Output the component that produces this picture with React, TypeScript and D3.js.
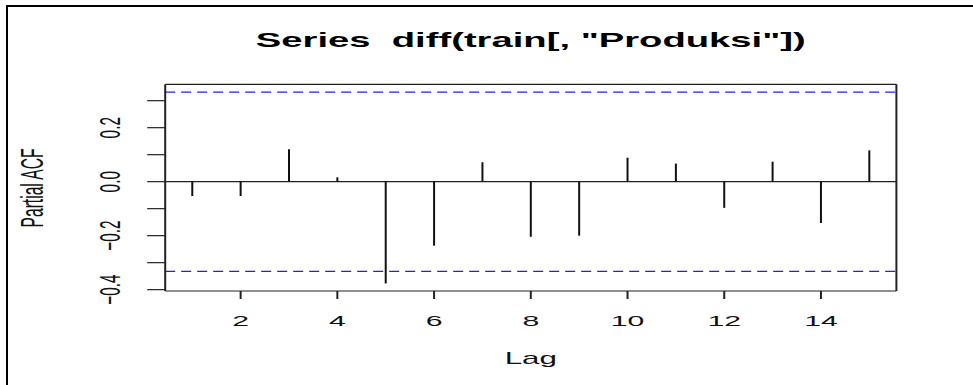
import React from "react";
import * as d3 from "d3";

const lags = [1, 2, 3, 4, 5, 6, 7, 8, 9, 10, 11, 12, 13, 14, 15];
const pacf = [-0.053, -0.053, 0.12, 0.016, -0.377, -0.237, 0.072, -0.204, -0.2, 0.089, 0.067, -0.097, 0.074, -0.153, 0.116];
const ciLimit = 0.332;
const xTicks = [2, 4, 6, 8, 10, 12, 14];
const yTicks = [-0.4, -0.3, -0.2, -0.1, 0.0, 0.1, 0.2, 0.3];
const yLabelTicks = [-0.4, -0.2, 0.0, 0.2];
const title = 'Series  diff(train[, "Produksi"])';
const xLabel = "Lag";
const yLabel = "Partial ACF";

const W = 973;
const H = 385;
const SX = 1.96;
const FONT = "'Liberation Sans', Arial, sans-serif";

export default function App() {
  const box = { left: 165.2, right: 896.4, top: 84.3, bottom: 291 };
  const x = d3.scaleLinear().domain([0.44, 15.56]).range([box.left, box.right]);
  const y = d3.scaleLinear().domain([-0.405, 0.3607]).range([box.bottom, box.top]);
  const fmt = (v: number) => (Math.abs(v) < 1e-9 ? "0.0" : d3.format(".1f")(v));

  return (
    <svg width={W} height={H} style={{ position: "absolute", left: 0, top: 0, background: "#fff" }}>
      <rect x={0} y={0} width={W} height={H} fill="#fff" />
      {/* outer frame */}
      <line x1={6} x2={W} y1={6} y2={6} stroke="#000" strokeWidth={2} />
      <line x1={7} x2={7} y1={5} y2={H} stroke="#000" strokeWidth={2} />

      {/* title */}
      <text
        transform={`translate(${(box.left + box.right) / 2},${47}) scale(${SX},1)`}
        textAnchor="middle"
        fontFamily={FONT}
        fontWeight="bold"
        fontSize={19.5}
        fill="#000"
        style={{ whiteSpace: "pre" }}
        xmlSpace="preserve"
      >
        {title}
      </text>

      {/* confidence lines */}
      {[ciLimit, -ciLimit].map((c, i) => (
        <line
          key={i}
          x1={box.left}
          x2={box.right}
          y1={y(c)}
          y2={y(c)}
          stroke="#2020ff"
          strokeWidth={1.2}
          strokeDasharray="10 6"
        />
      ))}

      {/* zero line */}
      <line x1={box.left} x2={box.right} y1={y(0)} y2={y(0)} stroke="#222" strokeWidth={1.2} />

      {/* spikes */}
      {lags.map((l, i) => (
        <line key={l} x1={x(l)} x2={x(l)} y1={y(0)} y2={y(pacf[i])} stroke="#111" strokeWidth={2} />
      ))}

      {/* box */}
      <line x1={box.left} x2={box.right} y1={box.top} y2={box.top} stroke="#222" strokeWidth={1.2} />
      <line x1={box.left} x2={box.right} y1={box.bottom} y2={box.bottom} stroke="#222" strokeWidth={1.2} />
      <line x1={box.left} x2={box.left} y1={box.top} y2={box.bottom} stroke="#222" strokeWidth={2} />
      <line x1={box.right} x2={box.right} y1={box.top} y2={box.bottom} stroke="#222" strokeWidth={2} />

      {/* y axis ticks */}
      {yTicks.map((t) => (
        <line key={t} x1={box.left - 18} x2={box.left} y1={y(t)} y2={y(t)} stroke="#222" strokeWidth={1.2} />
      ))}
      {yLabelTicks.map((t) => (
        <text
          key={t}
          transform={`translate(${120},${y(t)}) scale(${SX},1) rotate(-90)`}
          textAnchor="middle"
          fontFamily={FONT}
          fontSize={15.4}
          fill="#111"
        >
          {fmt(t)}
        </text>
      ))}

      {/* x axis ticks */}
      {xTicks.map((t) => (
        <g key={t}>
          <line x1={x(t)} x2={x(t)} y1={box.bottom} y2={box.bottom + 8} stroke="#222" strokeWidth={2} />
          <text
            transform={`translate(${x(t)},${326}) scale(${SX},1)`}
            textAnchor="middle"
            fontFamily={FONT}
            fontSize={15.4}
            fill="#111"
          >
            {t}
          </text>
        </g>
      ))}

      {/* axis labels */}
      <text
        transform={`translate(${(box.left + box.right) / 2},${364.3}) scale(${SX},1)`}
        textAnchor="middle"
        fontFamily={FONT}
        fontSize={16}
        fill="#111"
      >
        {xLabel}
      </text>
      <text
        transform={`translate(${43},${188}) scale(${SX},1) rotate(-90)`}
        textAnchor="middle"
        fontFamily={FONT}
        fontSize={15.6}
        fill="#111"
      >
        {yLabel}
      </text>
    </svg>
  );
}
